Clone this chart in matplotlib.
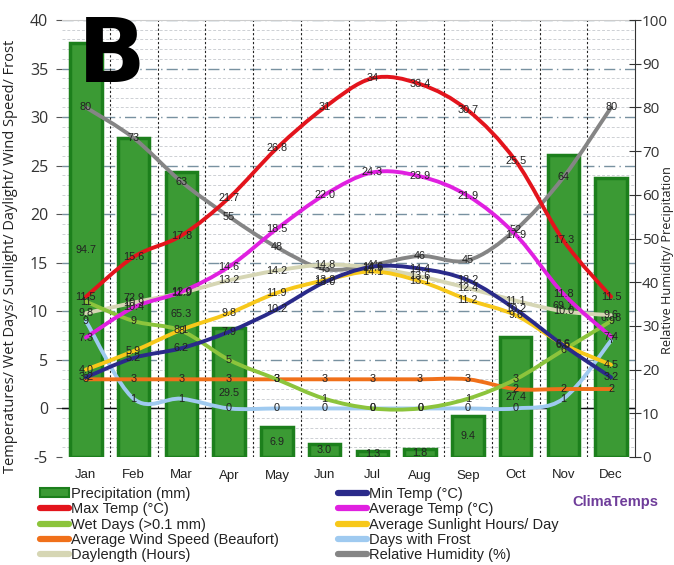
import matplotlib
matplotlib.use("Agg")
import matplotlib.pyplot as plt
import numpy as np
from matplotlib.path import Path
from matplotlib.patches import PathPatch
from matplotlib.lines import Line2D
from matplotlib.patches import Patch

months = ["Jan", "Feb", "Mar", "Apr", "May", "Jun", "Jul", "Aug", "Sep", "Oct", "Nov", "Dec"]
precip = [94.7, 72.9, 65.3, 29.5, 6.9, 3.0, 1.3, 1.8, 9.4, 27.4, 69.1, 63.8]
max_temp = [11.5, 15.6, 17.8, 21.7, 26.8, 31, 34, 33.4, 30.7, 25.5, 17.3, 11.5]
min_temp = [3.2, 5.2, 6.2, 7.9, 10.2, 13.0, 14.6, 14.4, 13.2, 10.2, 6.5, 3.2]
avg_temp = [7.3, 10.4, 12.0, 14.6, 18.5, 22.0, 24.3, 23.9, 21.9, 17.9, 11.8, 7.4]
wet_days = [11, 9, 8, 5, 3, 1, 0, 0, 1, 3, 6, 9]
sunlight = [4.0, 5.9, 8.1, 9.8, 11.9, 13.2, 14.1, 13.1, 11.2, 9.6, 6.6, 4.5]
wind = [3, 3, 3, 3, 3, 3, 3, 3, 3, 2, 2, 2]
frost = [9, 1, 1, 0, 0, 0, 0, 0, 0, 0, 1, 7]
daylength = [9.8, 10.9, 11.9, 13.2, 14.2, 14.8, 14.5, 13.6, 12.4, 11.1, 10.0, 9.6]
humidity = [80, 73, 63, 55, 48, 43, 44, 46, 45, 52, 64, 80]

left_ticks = [-5, 0, 5, 10, 15, 20, 25, 30, 35, 40]
right_ticks = [0, 10, 20, 30, 40, 50, 60, 70, 80, 90, 100]

LBL = ["Liberation Sans", "DejaVu Sans"]
TICKF = ["Open Sans", "DejaVu Sans"]

fig = plt.figure(figsize=(6.74, 5.65), dpi=100)
W, H = 674, 565
pos = [62 / W, (H - 457) / H, (635 - 62) / W, (457 - 20) / H]

ax1 = fig.add_axes(pos)           # grid, left scale
ax2 = ax1.twinx()                 # bars + humidity, right scale
ax3 = ax1.twinx()                 # left-scale lines

x = np.arange(12)
for a in (ax1, ax3):
    a.set_ylim(-5, 40)
    a.set_xlim(-0.5, 11.5)
ax2.set_ylim(0, 100)

# grid on ax1
for v in np.arange(-5, 41, 1):
    if v % 5 == 0:
        continue
    ax1.axhline(v, color="#cdd0d4", lw=0.7, ls=(0, (3, 2)), zorder=0)
for v in left_ticks[1:]:
    ax1.axhline(v, color="#7891a0", lw=1.0, ls=(0, (8, 3, 1, 3)), zorder=1)
for b in np.arange(0.5, 11.5, 1):
    ax1.axvline(b, color="#222222", lw=0.8, ls=(0, (2, 2)), zorder=1)
ax1.axhline(0, color="#111111", lw=1.0, zorder=2)

ax1.set_yticks(left_ticks)
ax1.set_yticklabels([str(t) for t in left_ticks], family=TICKF, fontsize=11.5, color="#333333")
ax1.tick_params(axis="y", length=4, color="#555555", pad=6)
ax1.set_xticks(x)
ax1.set_xticklabels(months, family=LBL, fontsize=9.5, color="#222222")
ax1.tick_params(axis="x", length=0, pad=9)
for s in ["left", "bottom"]:
    ax1.spines[s].set_visible(False)
ax1.spines["top"].set_color("#cccccc")
ax1.spines["right"].set_visible(False)
ax1.set_ylabel("Temperatures/ Wet Days/ Sunlight/ Daylight/ Wind Speed/ Frost",
               family=TICKF, fontsize=10.5, color="#222222")
ax1.yaxis.set_label_coords(-0.077, 0.46)

# bars on ax2
ax2.bar(x, precip, width=0.66, color="#3b9a34", edgecolor="#1c7f1c", lw=2.5, zorder=2)
ax2.set_yticks(right_ticks)
ax2.set_yticklabels([str(t) for t in right_ticks], family=TICKF, fontsize=11, color="#333333")
ax2.tick_params(axis="y", direction="inout", length=8, color="#333333", pad=1)
for s in ["left", "top", "bottom"]:
    ax2.spines[s].set_visible(False)
ax2.spines["right"].set_color("#333333")
ax2.set_ylabel("Relative Humidity/ Precipitation", family=TICKF, fontsize=9.2, color="#222222")
ax2.yaxis.set_label_coords(1.045, 0.45)
ax2.patch.set_visible(False)

ax3.axis("off")
ax3.patch.set_visible(False)


def smooth(ax, xs, ys, color, lw=2.8, z=3):
    pts = np.column_stack([xs, ys]).astype(float)
    n = len(pts)
    verts = [pts[0]]
    codes = [Path.MOVETO]
    for i in range(n - 1):
        p0 = pts[max(i - 1, 0)]
        p1 = pts[i]
        p2 = pts[i + 1]
        p3 = pts[min(i + 2, n - 1)]
        c1 = p1 + (p2 - p0) / 6.0
        c2 = p2 - (p3 - p1) / 6.0
        verts += [c1, c2, p2]
        codes += [Path.CURVE4] * 3
    patch = PathPatch(Path(verts, codes), fill=False, edgecolor=color, lw=lw,
                      capstyle="round", joinstyle="round", zorder=z)
    ax.add_patch(patch)


def labels(ax, xs, ys, fmt, z=10):
    for xi, yi in zip(xs, ys):
        ax.text(xi, yi, format(yi, fmt), ha="center", va="center", fontsize=7.8,
                family=LBL, color="#222222", zorder=z)


series = [
    (ax3, daylength, "#d6d6b4", ".1f"),
    (ax3, frost, "#9fcaf0", "g"),
    (ax3, wind, "#f0701a", "g"),
    (ax3, wet_days, "#8cc43c", "g"),
    (ax3, sunlight, "#f7c81a", ".1f"),
    (ax3, min_temp, "#2a2a8a", ".1f"),
    (ax3, avg_temp, "#e020e0", ".1f"),
    (ax3, max_temp, "#e3141c", "g"),
]
smooth(ax2, x, humidity, "#858585", z=4)
for a, d, c, f in series:
    smooth(a, x, d, c)
for a, d, c, f in series:
    labels(a, x, d, f)
labels(ax2, x, humidity, "g")
for xi, p in zip(x, precip):
    ax2.text(xi, p / 2, format(p, ".1f"), ha="center", va="center", fontsize=7.8,
             family=LBL, color="#222222", zorder=10)

# big letter
fig.text(78 / W, 1 - 57 / H, "B", fontsize=64, fontweight="black", family="DejaVu Sans",
         color="black", ha="left", va="center")

# legend
def lh(c):
    return Line2D([0], [0], color=c, lw=4.5, solid_capstyle="round")

handles = [
    Patch(facecolor="#3b9a34", edgecolor="#1c7f1c", lw=1.5),
    lh("#e3141c"), lh("#8cc43c"), lh("#f0701a"), lh("#d6d6b4"),
    lh("#2a2a8a"), lh("#e020e0"), lh("#f7c81a"), lh("#9fcaf0"), lh("#858585"),
]
names = [
    "Precipitation (mm)", "Max Temp (°C)", "Wet Days (>0.1 mm)",
    "Average Wind Speed (Beaufort)", "Daylength (Hours)",
    "Min Temp (°C)", "Average Temp (°C)", "Average Sunlight Hours/ Day",
    "Days with Frost", "Relative Humidity (%)",
]
leg = fig.legend(handles, names, ncol=2, loc="upper left",
                 bbox_to_anchor=(40 / W, 1 - 487 / H), frameon=False,
                 prop={"family": LBL, "size": 10.5}, handlelength=2.0, handletextpad=0.15,
                 labelspacing=0.09, columnspacing=4.0, borderpad=0, borderaxespad=0,
                 handleheight=0.6)
for t in leg.get_texts():
    t.set_color("#222222")

fig.text(615 / W, 1 - 502 / H, "ClimaTemps", fontsize=10.5, fontweight="bold",
         family=LBL, color="#6f3d9a", ha="center", va="center")

fig.savefig("out.png", dpi=100)
